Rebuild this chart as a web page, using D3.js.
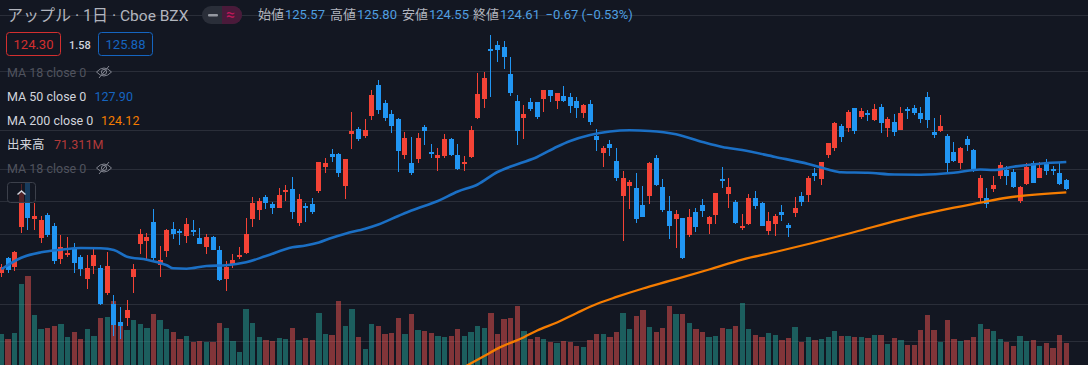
<!DOCTYPE html>
<html>
<head>
<meta charset="utf-8">
<script src="https://cdn.jsdelivr.net/npm/d3@7"></script>
<style>
  html, body { margin: 0; padding: 0; background: #131722; overflow: hidden; }
  text { font-family: Roboto, "Noto Sans CJK JP", sans-serif; }
</style>
</head>
<body>
<div id="chart"></div>
<script>
// prices, one entry per daily candle
const high = [115.2,116.12,116.83,125.2,125.37,122.87,121.2,121.58,120.33,118.83,118.58,117.83,116.33,116.33,117.08,115.08,116.7,111.33,109.83,110.7,
  115.2,119.58,119.08,122.08,117.45,119.58,120.45,119.58,120.95,120.7,119.7,118.95,118.7,117.45,115.58,116.45,117.33,120.95,123.58,123.45,
  123.83,122.95,124.7,125.08,126.08,123.95,122.83,123.45,127.95,128.45,129.58,129.08,128.33,134.2,132.33,133.33,136.95,138.2,135.7,134.45,
  133.45,131.7,131.08,131.58,132.58,130.2,129.7,131.45,130.95,130.2,128.7,132.45,139.08,139.2,143.83,143.08,143.08,141.08,136.33,135.08,
  135.95,135.45,136.95,136.95,136.58,137.45,136.58,136.08,135.2,135.7,132.08,129.95,130.7,129.7,126.83,125.7,126.58,124.95,127.95,128.83,
  125.83,123.7,121.95,120.95,122.08,122.2,123.33,121.2,124.08,127.33,125.95,123.2,121.45,123.95,124.33,122.95,121.7,121.45,122.58,120.33,
  123.58,124.2,126.2,127.2,127.95,130.33,132.95,132.7,134.45,134.7,134.7,134.45,135.2,135.2,133.58,133.95,134.83,134.83,135.08,134.83,
  136.7,133.45,133.83,131.45,130.45,129.83,131.2,129.58,126.33,124.7,126.2,127.95,127.45,127.08,124.95,127.83,128.08,127.95,128.33,127.45,
  127.83,125.83];
const low = [113.62,114.12,114.37,119.12,119.45,119.45,117.83,118.58,115.24,115.24,116.08,114.08,113.7,112.08,113.95,110.08,111.33,106.2,105.83,107.45,
  111.58,116.45,115.83,115.7,113.58,116.08,118.33,117.58,117.83,118.7,117.7,116.45,116.95,113.08,111.83,114.7,115.83,116.45,119.83,120.7,
  122.08,121.45,122.2,123.08,120.83,119.95,120.49,121.45,124.08,126.58,127.95,126.08,123.33,129.58,130.58,130.95,133.2,133.95,133.08,131.58,
  126.7,128.33,126.33,127.83,130.08,128.45,126.83,128.45,128.7,126.95,126.83,128.45,133.33,134.7,136.08,140.45,139.58,136.2,130.08,130.83,
  134.33,133.33,134.2,135.45,134.58,135.45,134.08,133.45,133.45,132.58,129.33,127.33,128.7,125.58,118.08,122.08,120.33,121.08,122.7,124.95,
  121.7,118.33,117.2,115.83,118.58,119.2,121.08,118.95,120.2,124.7,122.2,120.2,119.45,120.08,122.08,119.95,118.83,118.7,120.58,118.58,
  121.08,122.45,122.95,125.58,125.08,128.45,129.33,130.45,131.7,131.45,133.33,133.08,133.08,131.58,131.08,131.2,131.95,133.33,133.83,132.83,
  132.2,130.95,131.7,126.7,127.95,127.08,129.33,126.7,122.83,122.2,124.2,125.83,125.08,124.7,122.83,125.08,125.33,125.95,126.33,126.33,
  125.08,124.45];
const open = [114.12,115.95,114.83,119.87,125.28,120.83,118.45,121.33,119.95,115.83,116.33,117.08,116.08,113.33,114.95,114.7,111.58,110.2,107.95,108.45,
  113.58,117.7,118.08,120.45,115.08,116.83,119.58,119.33,118.7,119.45,118.45,117.33,118.58,116.95,113.33,115.08,116.2,116.58,120.83,121.95,
  123.58,122.7,122.2,124.33,124.58,120.33,122.45,122.7,124.33,127.33,128.95,128.95,124.95,131.45,132.08,131.2,133.7,137.58,135.33,133.95,
  133.33,128.83,127.83,128.33,132.33,129.2,128.45,128.7,130.83,128.83,127.7,128.58,133.45,135.83,142.08,142.58,142.33,138.95,135.58,133.45,
  135.45,135.45,135.83,136.95,135.58,136.2,136.08,135.58,134.08,135.2,131.2,129.08,130.2,128.08,123.7,124.95,124.7,122.58,123.7,128.45,
  124.83,121.83,120.83,120.95,118.83,121.7,122.58,120.2,121.33,125.83,123.95,122.95,119.7,120.2,123.45,122.83,119.33,120.2,121.7,120.08,
  121.58,123.7,123.83,126.58,125.83,128.83,129.7,132.45,132.2,134.7,133.58,134.08,133.2,134.83,132.2,132.95,131.95,134.58,134.7,134.08,
  136.08,131.7,131.83,131.2,129.2,127.83,130.83,129.45,123.45,123.45,124.58,126.2,126.95,126.7,123.08,125.2,127.83,125.95,127.83,127.08,
  126.58,125.7];
const close = [114.78,114.49,116.7,124.03,120.99,121.2,120.7,118.83,115.58,117.33,116.58,115.33,114.58,114.7,116.33,110.2,114.95,107.58,107.45,109.45,
  114.58,118.95,118.58,115.95,115.7,119.45,118.95,119.08,120.2,119.2,117.7,118.58,116.95,113.2,114.83,115.7,116.33,118.95,122.83,123.08,
  122.83,122.2,123.83,124.45,121.7,123.33,122.36,121.7,127.95,127.83,128.58,126.58,128.33,131.83,130.83,131.95,136.33,134.45,133.45,132.45,
  129.33,130.95,126.58,130.95,131.83,128.95,128.83,130.83,128.83,127.08,127.95,131.95,136.45,138.45,141.83,141.95,141.08,136.58,131.83,133.95,
  134.58,133.58,136.95,136.2,136.58,135.58,134.95,134.7,135.08,132.95,130.7,129.7,129.7,125.95,125.95,125.45,120.83,121.08,127.83,125.08,
  121.95,119.95,121.45,115.95,121.08,119.83,121.83,121.08,124.08,125.58,124.83,120.33,119.95,123.45,122.45,119.95,120.58,121.2,121.33,119.7,
  122.2,122.95,125.95,126.2,127.95,130.33,132.83,131.08,134.2,131.83,134.33,133.83,134.58,132.83,133.33,131.7,134.08,134.33,134.08,133.33,
  133.2,131.33,132.45,127.83,128.08,129.7,130.08,126.83,125.95,122.7,125.08,127.58,126.2,124.83,124.83,127.33,125.33,127.2,126.83,126.83,
  125.2,124.58];
// millions of shares
const volume = [100.4,84.2,103.7,262.4,288.4,162,116.6,119.9,126.4,132.8,90.7,106.9,84.2,116.6,94,152.3,155.5,207.4,129.6,113.4,
  145.8,132.8,119.9,165.2,145.8,116.6,106.9,84.2,94,74.5,77.8,74.5,74.5,136.1,119.9,77.8,42.1,181.4,136.1,90.7,
  81,77.8,87.5,84.2,119.9,81,87.5,81,168.5,100.4,97.2,207.4,126.4,181.4,90.7,51.8,132.8,126.4,100.4,103.7,
  152.3,100.4,165.2,113.4,110.2,103.7,94,90.7,94,116.6,94,106.9,126.4,119.9,168.5,100.4,149,152.3,191.2,110.2,
  84.2,90.7,84.2,74.5,71.3,77.8,74.5,61.6,58.3,81,100.4,100.4,90.7,106.9,168.5,116.6,158.8,178.2,123.1,106.9,
  119.9,191.2,165.2,165.2,136.1,116.6,106.9,90.7,94,119.9,116.6,126.4,200.9,116.6,97.2,90.7,103.7,97.2,81,87.5,
  123.1,74.5,90.7,81,84.2,90.7,110.2,94,94,90.7,90.7,87.5,97.2,97.2,68,87.5,81,64.8,64.8,113.4,
  162,113.4,74.5,145.8,84.2,77.8,81,90.7,132.8,116.6,110.2,84.2,74.5,61.6,94,77.8,81,61.6,71.3,55.1,
  97.2,71.311];

const ma50Index = [0,3,6,9,12,15,17,19,22,25,26,28,31,34,37,40,44,46,48,50,52,55,57,60,62,66,69,72,75,77,79,81,84,86,89,92,95,98,102,106,109,112,117,122,125,127,131,135,139,144,148,150,153,157,161];
const ma50 = [114.54,115.99,116.66,116.99,117.2,117.16,116.95,116.11,115.74,115.04,114.66,114.61,114.95,115.04,115.41,116.2,117.29,117.51,117.89,118.49,118.99,119.61,120.14,121.2,121.89,123.08,124.26,125.14,126.7,127.39,127.95,128.58,129.86,130.58,131.33,131.76,131.91,131.83,131.41,130.45,129.83,129.45,128.58,127.7,127.01,126.66,126.6,126.38,126.36,126.6,127.01,126.95,127.36,127.74,127.95];
const ma200Index = [70,73,75,79,81,84,87,90,93,97,101,107,112,117,122,129,136,142,148,152,161];
const ma200 = [102.33,103.7,104.62,106.05,106.89,107.89,109.08,110.2,111.08,112.14,113.08,114.51,115.76,116.7,117.7,119.2,120.76,121.89,122.86,123.48,124.16];

const gridPrices = [146.33,139.33,131.95,127.08,123.08,118.95,114.58,110.2,105.58];

const width = 1088, height = 365;
const colorUp = "#f44336", colorDown = "#2196f3";

const svg = d3.select("#chart").append("svg")
    .attr("width", width)
    .attr("height", height)
    .style("display", "block")
    .style("background", "#131722");

const x = d3.scaleLinear().domain([0, 161]).range([1.4, 1066.3]);
const y = d3.scaleLinear().domain([148.2, 102.575]).range([0, height]);
const yVol = d3.scaleLinear().domain([0, 275.4]).range([height, 280]);

// grid
svg.append("g").selectAll("rect")
    .data(gridPrices)
    .enter().append("rect")
    .attr("x", 0)
    .attr("y", d => Math.round(y(d)))
    .attr("width", width)
    .attr("height", 1)
    .attr("fill", "#2a2e39");

// volume
svg.append("g").selectAll("rect")
    .data(volume)
    .enter().append("rect")
    .attr("x", (d, i) => Math.round(x(i) - 2.65))
    .attr("y", d => Math.round(yVol(d)))
    .attr("width", (d, i) => Math.round(x(i) + 2.65) - Math.round(x(i) - 2.65))
    .attr("height", d => height - Math.round(yVol(d)))
    .attr("fill", (d, i) => close[i] < open[i] ? "#ef5350" : "#26a69a")
    .attr("fill-opacity", 0.5)
    .attr("shape-rendering", "crispEdges");

// candles
const candles = svg.append("g").attr("shape-rendering", "crispEdges");
candles.selectAll("rect.wick")
    .data(high)
    .enter().append("rect")
    .attr("class", "wick")
    .attr("x", (d, i) => Math.floor(x(i)))
    .attr("y", d => Math.round(y(d)))
    .attr("width", 1)
    .attr("height", (d, i) => Math.round(y(low[i])) - Math.round(y(d)))
    .attr("fill", (d, i) => close[i] < open[i] ? colorDown : colorUp);
candles.selectAll("rect.body")
    .data(open)
    .enter().append("rect")
    .attr("class", "body")
    .attr("x", (d, i) => Math.floor(x(i)) - 2)
    .attr("y", (d, i) => Math.round(y(Math.max(d, close[i]))))
    .attr("width", 5)
    .attr("height", (d, i) => Math.max(2, Math.round(y(Math.min(d, close[i]))) - Math.round(y(Math.max(d, close[i])))))
    .attr("fill", (d, i) => close[i] < d ? colorDown : colorUp);

// moving averages
const maLine = d3.line().curve(d3.curveMonotoneX).x(d => x(d[0])).y(d => y(d[1]));
svg.append("path")
    .attr("d", maLine(d3.zip(ma50Index, ma50)))
    .attr("fill", "none")
    .attr("stroke", "#1b6fc4")
    .attr("stroke-width", 2.6);
svg.append("path")
    .attr("d", maLine(d3.zip(ma200Index, ma200)))
    .attr("fill", "none")
    .attr("stroke", "#f57c00")
    .attr("stroke-width", 2.3);

// legend
function label(txt, px, py, color, size, weight) {
    return svg.append("text")
        .attr("x", px)
        .attr("y", py)
        .attr("fill", color)
        .attr("font-size", size || 12.5)
        .attr("font-weight", weight || 400)
        .text(txt);
}

label("アップル · 1日 ·", 7, 21, "#b2b5be", 16);
label("Cboe BZX", 120, 21, "#b2b5be", 15.5);

svg.append("rect").attr("x", 202).attr("y", 6).attr("width", 40).attr("height", 18).attr("rx", 9).attr("fill", "#2a2e39");
svg.append("path").attr("d", "M222 6h11a9 9 0 0 1 0 18h-11z").attr("fill", "#4a1a3a");
svg.append("rect").attr("x", 208).attr("y", 14).attr("width", 10).attr("height", 2.5).attr("rx", 1).attr("fill", "#9598a1");
label("≈", 226, 20, "#c2185b", 16);

const ohlcLabels = ["始値", "高値", "安値", "終値"];
const ohlcValues = ["125.57", "125.80", "124.55", "124.61"];
const ohlcX = [258, 330, 402, 473];
ohlcLabels.forEach((t, i) => {
    label(t, ohlcX[i], 19, "#b2b5be", 13);
    label(ohlcValues[i], ohlcX[i] + 27, 19, "#4f9fe0", 13);
});
label("−0.67 (−0.53%)", 545.5, 19, "#4f9fe0", 13);

function priceBox(px, color, txt) {
    svg.append("rect").attr("x", px + 0.5).attr("y", 32.5).attr("width", 54).attr("height", 23).attr("rx", 3)
        .attr("fill", "none").attr("stroke", color);
    label(txt, px + 27.5, 49, color, 13).attr("text-anchor", "middle");
}
priceBox(6, "#d32f2f", "124.30");
label("1.58", 69, 49, "#d1d4dc", 11, 500);
priceBox(98, "#1565c0", "125.88");

function eye(px, py) {
    const g = svg.append("g").attr("transform", `translate(${px},${py})`)
        .attr("fill", "none").attr("stroke", "#80838e").attr("stroke-width", 1);
    g.append("path").attr("d", "M-7.5 0Q0 -8 7.5 0Q0 8 -7.5 0");
    g.append("circle").attr("r", 2.6);
    g.append("path").attr("d", "M-5 6L5 -6");
}

label("MA 18 close 0", 7, 77, "#50535e");
eye(104, 72);
label("MA 50 close 0", 7, 101, "#d1d4dc");
label("127.90", 94.5, 101, "#1565c0");
label("MA 200 close 0", 7, 125, "#d1d4dc");
label("124.12", 101, 125, "#f57c00");
label("出来高", 7, 149, "#d1d4dc", 12.5);
label("71.311M", 54, 149, "#b23a3a");
label("MA 18 close 0", 7, 173, "#50535e");
eye(104, 168);

// collapse button
svg.append("rect").attr("x", 7.5).attr("y", 182.5).attr("width", 28).attr("height", 20).attr("rx", 3)
    .attr("fill", "#131722").attr("fill-opacity", 0.72).attr("stroke", "#3c404b");
svg.append("path").attr("d", "M17.5 194.5L21.5 191L25.5 194.5")
    .attr("fill", "none").attr("stroke", "#d1d4dc").attr("stroke-width", 1.5);
</script>
</body>
</html>
